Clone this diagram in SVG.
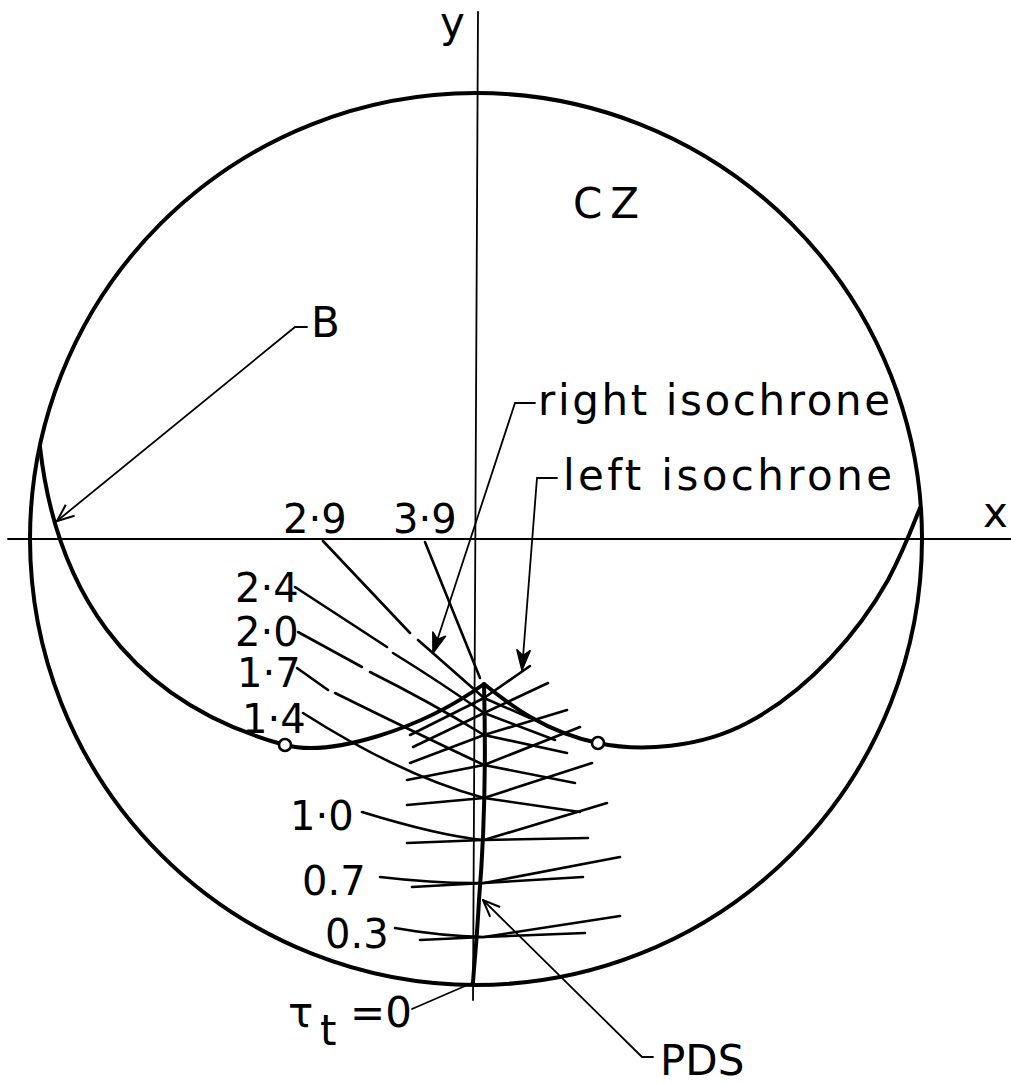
<svg xmlns="http://www.w3.org/2000/svg" width="1011" height="1084" viewBox="0 0 1011 1084">
<style>
.thin{fill:none;stroke:#000;stroke-width:1.8;stroke-linecap:round}
.med{fill:none;stroke:#000;stroke-width:2.6;stroke-linecap:round;stroke-linejoin:round}
.thick{fill:none;stroke:#000;stroke-width:4;stroke-linecap:round;stroke-linejoin:round}
.lbl{font-family:"DejaVu Sans","Liberation Sans",sans-serif;font-size:42px;fill:#000}
.num{font-family:"DejaVu Sans","Liberation Sans",sans-serif;font-size:40px;fill:#000}
</style>
<defs>
<marker id="ah" viewBox="0 0 20 20" refX="19" refY="10" markerWidth="20" markerHeight="20" markerUnits="userSpaceOnUse" orient="auto">
<path d="M2,3 L19,10 L2,17" fill="none" stroke="#000" stroke-width="2"/>
</marker>
<marker id="ahs" viewBox="0 0 20 20" refX="19" refY="10" markerWidth="22" markerHeight="22" markerUnits="userSpaceOnUse" orient="auto">
<path d="M1,4 L19,10 L1,16 L6,10 Z" fill="#000" stroke="#000" stroke-width="1.5" stroke-linejoin="round"/>
</marker>
</defs>
<rect width="1011" height="1084" fill="#fff"/>
<g id="axes">
<line class="thin" x1="8" y1="539" x2="1011" y2="539"/>
<line class="thin" x1="478" y1="12" x2="473" y2="1000"/>
<text class="lbl" x="440" y="37">y</text>
<text class="lbl" x="983" y="527">x</text>
</g>
<g id="circle"><circle class="thick" cx="476" cy="539" r="446"/></g>
<g id="boundary">
<path class="thick" d="M40,447 C55,580 120,700 285,745 C330,757 420,730 484,684 C510,705 545,732 598,743 C640,752 700,748 747,723 C810,690 860,630 888,580 C905,548 915,520 920,508"/>
<circle cx="285" cy="745" r="6" fill="#fff" stroke="#000" stroke-width="2.6"/>
<circle cx="598" cy="743" r="6" fill="#fff" stroke="#000" stroke-width="2.6"/>
</g>
<g id="PDS-curve">
<path class="thick" d="M484,684 C486,760 484,840 479,900 C477,940 474,965 473,983" stroke-width="5"/>
</g>
<g id="isochrones">
<path class="med" d="M323,541 L410,633 M418,640 L484,698 L530,718"/>
<path class="med" d="M295,587 L387,647 M393,653 Q440,682 484,713 L555,740"/>
<path class="med" d="M298,632 L362,667 M370,672 Q430,702 484,735 L567,753"/>
<path class="med" d="M297,668 L328,690 M335,693 Q420,735 484,765 L575,783"/>
<path class="med" d="M303,713 Q400,775 484,798 L580,812"/>
<path class="med" d="M362,812 Q440,836 484,840 L588,838"/>
<path class="med" d="M380,877 Q440,884 484,883 L583,877"/>
<path class="med" d="M395,928 Q440,936 484,937 L585,933"/>
<path class="med" d="M420,940 L484,937 L620,916"/>
<path class="med" d="M412,887 L484,883 L620,857"/>
<path class="med" d="M407,843 L484,840 L607,803"/>
<path class="med" d="M407,805 L484,798 L592,763"/>
<path class="med" d="M407,780 L484,765 L580,727"/>
<path class="med" d="M410,763 L484,735 L567,710"/>
<path class="med" d="M413,747 L484,713 L548,683"/>
<path class="med" d="M410,735 L484,698 L530,666"/>
<path class="med" d="M425,542 L480,678"/>
</g>
<g id="labels">
<text class="num" x="283" y="533">2·9</text>
<text class="num" x="393" y="533">3·9</text>
<text class="num" x="235" y="602">2·4</text>
<text class="num" x="235" y="646">2·0</text>
<text class="num" x="237" y="687">1·7</text>
<text class="num" x="242" y="733">1·4</text>
<text class="num" x="290" y="830">1·0</text>
<text class="num" x="302" y="895">0.7</text>
<text class="num" x="325" y="948">0.3</text>
<text class="lbl" x="288" y="1027">τ</text>
<text class="lbl" x="320" y="1045" font-size="30">t</text>
<text class="lbl" x="350" y="1027">=0</text>
<text class="lbl" x="573" y="218" letter-spacing="8">CZ</text>
<text class="lbl" x="311" y="337">B</text>
<text class="lbl" x="538" y="415" textLength="352" lengthAdjust="spacing">right isochrone</text>
<text class="lbl" x="563" y="490" textLength="329" lengthAdjust="spacing">left isochrone</text>
<text class="lbl" x="660" y="1075">PDS</text>
</g>
<g id="connectors">
<path class="thin" d="M307,327 L295,327 L57,521" marker-end="url(#ah)"/>
<path class="thin" d="M535,403 L515,403 L433,653" marker-end="url(#ahs)"/>
<path class="thin" d="M557,478 L537,478 L522,670" marker-end="url(#ahs)"/>
<path class="thin" d="M653,1057 L642,1057 L483,900" marker-end="url(#ah)"/>
<path class="thin" d="M412,1009 L472,983"/>
</g>
</svg>
